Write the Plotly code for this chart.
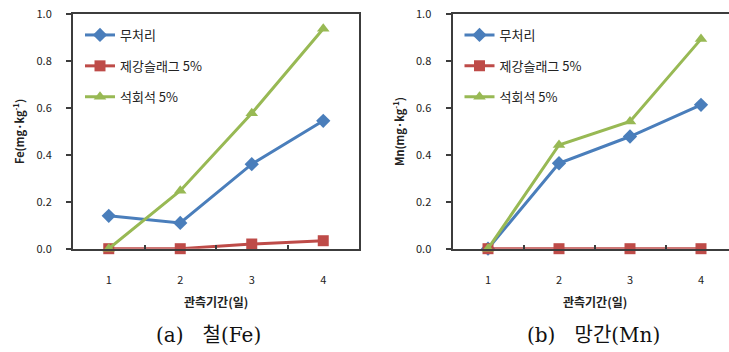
import plotly.graph_objects as go

# Observation period (days) and tick labels
day_labels = ["1", "2", "3", "4"]
y_ticks = [0.0, 0.2, 0.4, 0.6, 0.8, 1.0]
y_tick_labels = ["0.0", "0.2", "0.4", "0.6", "0.8", "1.0"]

series_names = ["무처리", "제강슬래그 5%", "석회석 5%"]

# Fe concentration (mg/kg)
fe_control = [0.14, 0.11, 0.36, 0.545]
fe_slag = [0.0, 0.0, 0.02, 0.034]
fe_lime = [0.0, 0.247, 0.577, 0.937]

# Mn concentration (mg/kg)
mn_control = [0.0, 0.364, 0.478, 0.613]
mn_slag = [0.0, 0.0, 0.0, 0.0]
mn_lime = [0.0, 0.442, 0.542, 0.893]

colors = ["#4A7EBB", "#BE4B48", "#98B954"]
symbols = ["diamond", "square", "triangle-up"]
sizes = [11, 11, 11]

W, H = 729, 352
FONT = "Noto Sans CJK KR"

fig = go.Figure()

panels = [
    ("x", "y", "legend", [fe_control, fe_slag, fe_lime]),
    ("x2", "y2", "legend2", [mn_control, mn_slag, mn_lime]),
]
for xa, ya, leg, values in panels:
    for i, (name, vals) in enumerate(zip(series_names, values)):
        fig.add_trace(go.Scatter(
            x=day_labels, y=vals, name=name, mode="lines+markers",
            xaxis=xa, yaxis=ya, legend=leg, legendgroup=f"{leg}{i}",
            line=dict(color=colors[i], width=3),
            marker=dict(symbol=symbols[i], size=sizes[i], color=colors[i]),
            cliponaxis=False,
        ))

# plot-area geometry in pixels
top, bottom = 14, 248.7
left1, right1 = 73, 359
left2 = 452.5
unit2 = 71.0
yd = [1 - bottom / H, 1 - top / H]

axis_line = "#3c3c3c"
tick_font = dict(family=FONT, size=11, color="#222222")

def xaxis_cfg(domain, rng, anchor):
    return dict(
        type="category", domain=domain, range=rng, anchor=anchor,
        tickson="boundaries", ticks="inside", ticklen=4, tickwidth=1.5,
        tickcolor=axis_line, showgrid=False, zeroline=False,
        showline=True, linecolor=axis_line, linewidth=2, mirror=True,
        tickfont=tick_font, ticklabelstandoff=20,
    )

def yaxis_cfg(anchor, mirror):
    return dict(
        domain=yd, range=[0, 1.0], tickvals=y_ticks, ticktext=y_tick_labels,
        ticks="outside", ticklen=5, tickwidth=1.5, tickcolor=axis_line, showgrid=False,
        zeroline=False, showline=True, linecolor=axis_line, linewidth=2, mirror=mirror,
        tickfont=tick_font, ticklabelstandoff=12, anchor=anchor,
    )

legend_style = dict(xanchor="left", yanchor="top", bgcolor="rgba(0,0,0,0)",
                    font=dict(family=FONT, size=13, color="#222"),
                    tracegroupgap=11, itemwidth=30)

x2_right = -0.5 + (W - left2) / unit2
fig.update_layout(
    width=W, height=H,
    margin=dict(l=0, r=0, t=0, b=0, autoexpand=False),
    paper_bgcolor="white", plot_bgcolor="white",
    xaxis=xaxis_cfg([left1 / W, right1 / W], [-0.5, 3.5], "y"),
    yaxis=yaxis_cfg("x", True),
    xaxis2=xaxis_cfg([left2 / W, 1.0], [-0.5, x2_right], "y2"),
    yaxis2=yaxis_cfg("x2", False),
    legend=dict(x=80 / W, y=1 - 20 / H, **legend_style),
    legend2=dict(x=(80 + left2 - left1) / W, y=1 - 20 / H, **legend_style),
    showlegend=True,
)

for xp in [216, 595]:
    fig.add_annotation(xref="paper", yref="paper", xanchor="center", yanchor="middle",
                       showarrow=False, text="<b>관측기간(일)</b>", x=xp / W, y=1 - 301.7 / H,
                       font=dict(family=FONT, size=12, color="#222"))

for text, xp in [("Fe(mg·kg<sup>-1</sup>)", 18), ("Mn(mg·kg<sup>-1</sup>)", 398)]:
    fig.add_annotation(xref="paper", yref="paper", xanchor="center", yanchor="middle",
                       showarrow=False, text=f"<b>{text}</b>", textangle=-90,
                       x=xp / W, y=1 - 132 / H,
                       font=dict(family=FONT, size=11, color="#222"))

for text, xp in [("(a)&nbsp;&nbsp; 철(Fe)", 208), ("(b)&nbsp;&nbsp; 망간(Mn)", 593)]:
    fig.add_annotation(xref="paper", yref="paper", xanchor="center", yanchor="middle",
                       showarrow=False, text=text, x=xp / W, y=1 - 335 / H,
                       font=dict(family="DejaVu Serif, Noto Sans CJK KR", size=20, color="#111"))

fig.write_html("out.html")
